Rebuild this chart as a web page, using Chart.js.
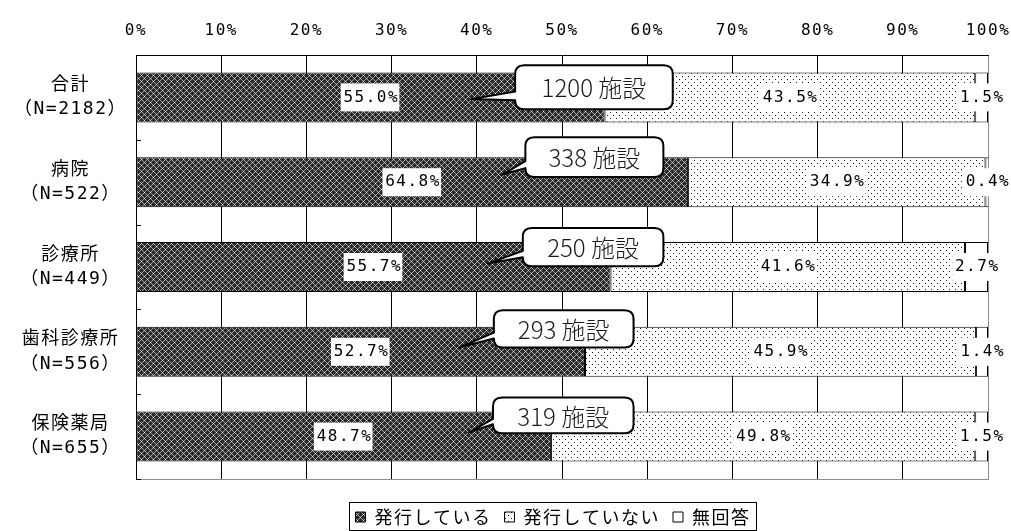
<!DOCTYPE html>
<html><head><meta charset="utf-8">
<script src="https://cdn.jsdelivr.net/npm/chart.js@4.4.0/dist/chart.umd.min.js"></script>
<style>html,body{margin:0;padding:0;background:#fff;}canvas{display:block;}</style>
</head><body>
<canvas id="c" width="1011" height="531"></canvas>
<script>
// ---- data ----
const categoryNames = ['合計', '病院', '診療所', '歯科診療所', '保険薬局'];
const categoryN = [2182, 522, 449, 556, 655];
const seriesNames = ['発行している', '発行していない', '無回答'];
const issued = [55.0, 64.8, 55.7, 52.7, 48.7];
const notIssued = [43.5, 34.9, 41.6, 45.9, 49.8];
const noAnswer = [1.5, 0.4, 2.7, 1.4, 1.5];
const facilityCounts = [1200, 338, 250, 293, 319];
const xTickValues = [0, 10, 20, 30, 40, 50, 60, 70, 80, 90, 100];

// ---- callout layout (x in axis %, y in category-band fractions from bar centre) ----
const calloutLeft = [44.5, 45.7, 45.4, 42.0, 41.9];
const calloutRight = [63.0, 61.9, 61.9, 58.4, 58.4];
const calloutTop = [-0.38, -0.53, -0.46, -0.49, -0.46];
const calloutBottom = [0.14, -0.06, -0.01, -0.05, -0.04];
const calloutTipX = [39.4, 43.0, 41.3, 37.9, 39.1];
const calloutTipY = [0.02, -0.09, -0.04, -0.05, -0.05];

const MONO = "'DejaVu Sans Mono','Noto Sans CJK JP',monospace";
const LS = '1.5px';
const LEGEND_SHIFT = { x: -9, y: 16 };

function makePattern(kind) {
  const size = 6;
  const c = document.createElement('canvas');
  c.width = size; c.height = size;
  const g = c.getContext('2d');
  if (kind === 'dark') {
    g.fillStyle = '#2a2a2a'; g.fillRect(0, 0, size, size);
    for (let y = 0; y < size; y++) for (let x = 0; x < size; x++) {
      if ((x + y) % size === 0 || (x - y + size) % size === 0) {
        g.fillStyle = (x === 0 && y === 0) || (x === 3 && y === 3) ? '#f0f0f0' : '#a8a8a8';
        g.fillRect(x, y, 1, 1);
      }
    }
  } else if (kind === 'dots') {
    g.fillStyle = '#ffffff'; g.fillRect(0, 0, size, size);
    g.fillStyle = '#1a1a1a'; g.fillRect(1, 1, 1, 1); g.fillRect(4, 4, 1, 1);
  } else {
    g.fillStyle = '#ffffff'; g.fillRect(0, 0, size, size);
  }
  return document.getElementById('c').getContext('2d').createPattern(c, 'repeat');
}

const patterns = [makePattern('dark'), makePattern('dots'), makePattern('white')];
const seriesValues = [issued, notIssued, noAnswer];

const labels = categoryNames.map((n, i) => [n, '（N=' + categoryN[i] + '）']);

function drawCallout(ctx, L, R, T, B, tx, ty, text) {
  const r = 9;
  const tailTop = B - (B - T) * 0.4;
  const tailBot = B - r;
  ctx.save();
  ctx.beginPath();
  ctx.moveTo(L + r, T);
  ctx.lineTo(R - r, T);
  ctx.quadraticCurveTo(R, T, R, T + r);
  ctx.lineTo(R, B - r);
  ctx.quadraticCurveTo(R, B, R - r, B);
  ctx.lineTo(L + r, B);
  ctx.quadraticCurveTo(L, B, L, tailBot);
  ctx.lineTo(tx, ty);
  ctx.lineTo(L, tailTop);
  ctx.lineTo(L, T + r);
  ctx.quadraticCurveTo(L, T, L + r, T);
  ctx.closePath();
  ctx.fillStyle = '#fff';
  ctx.fill();
  ctx.lineWidth = 2;
  ctx.strokeStyle = '#000';
  ctx.lineJoin = 'round';
  ctx.stroke();
  ctx.letterSpacing = '0px';
  ctx.font = "300 24px 'Noto Sans CJK JP'";
  ctx.fillStyle = '#1a1a1a';
  ctx.textAlign = 'center';
  ctx.textBaseline = 'middle';
  ctx.fillText(text, (L + R) / 2, (T + B) / 2 + 1);
  ctx.restore();
}

const decor = {
  id: 'decor',
  afterInit(chart) {
    const lg = chart.legend;
    if (lg) {
      const origFit = lg.fit.bind(lg);
      lg.fit = function () { origFit(); this.height = 52; };
      const origDraw = lg.draw.bind(lg);
      lg.draw = function () {
        const c = chart.ctx;
        c.save();
        c.translate(LEGEND_SHIFT.x, LEGEND_SHIFT.y);
        origDraw();
        c.restore();
      };
    }
  },
  beforeUpdate(chart) { chart.ctx.letterSpacing = LS; },
  beforeLayout(chart) { chart.ctx.letterSpacing = LS; },
  beforeDraw(chart) { chart.ctx.letterSpacing = LS; },
  afterDatasetsDraw(chart) {
    const ctx = chart.ctx;
    const area = chart.chartArea;
    const ys = chart.scales.y, xs = chart.scales.x;
    ctx.save();
    // bottom gray border
    ctx.strokeStyle = '#8c8c8c'; ctx.lineWidth = 1;
    ctx.beginPath();
    ctx.moveTo(area.left, Math.round(area.bottom) + 0.5);
    ctx.lineTo(area.right + 1, Math.round(area.bottom) + 0.5);
    ctx.stroke();
    // inner tick marks on category boundaries
    const band = (ys.bottom - ys.top) / categoryNames.length;
    ctx.strokeStyle = '#000';
    ctx.beginPath();
    for (let k = 1; k <= categoryNames.length; k++) {
      const yy = Math.round(ys.top + k * band) + 0.5;
      ctx.moveTo(area.left, yy); ctx.lineTo(area.left + 5, yy);
    }
    ctx.stroke();
    // data labels
    ctx.letterSpacing = LS;
    ctx.font = '16px ' + MONO;
    ctx.textAlign = 'center';
    ctx.textBaseline = 'middle';
    chart.data.datasets.forEach((ds, di) => {
      const meta = chart.getDatasetMeta(di);
      meta.data.forEach((bar, i) => {
        const txt = ds.data[i].toFixed(1) + '%';
        const cx = (bar.x + bar.base) / 2;
        const cy = bar.y;
        const w = ctx.measureText(txt).width;
        ctx.fillStyle = '#fff';
        ctx.fillRect(cx - w / 2 - 2, cy - 14, w + 3, 28);
        ctx.fillStyle = '#000';
        ctx.fillText(txt, cx + 0.75, cy);
      });
    });
    ctx.restore();
    // callouts
    facilityCounts.forEach((n, i) => {
      const yc = ys.getPixelForValue(i);
      drawCallout(ctx,
        xs.getPixelForValue(calloutLeft[i]), xs.getPixelForValue(calloutRight[i]),
        yc + calloutTop[i] * band, yc + calloutBottom[i] * band,
        xs.getPixelForValue(calloutTipX[i]), yc + calloutTipY[i] * band,
        n + ' 施設');
    });
  },
  afterDraw(chart) {
    const lg = chart.legend;
    if (!lg || !lg.legendHitBoxes || !lg.legendHitBoxes.length) return;
    const hb = lg.legendHitBoxes;
    const l = Math.min(...hb.map(h => h.left)) + LEGEND_SHIFT.x;
    const r = Math.max(...hb.map(h => h.left + h.width)) + LEGEND_SHIFT.x;
    const ctx = chart.ctx;
    ctx.save();
    ctx.strokeStyle = '#000'; ctx.lineWidth = 1;
    ctx.strokeRect(Math.round(l - 7) + 0.5, 502.5, Math.round(r - l + 12), 28);
    ctx.restore();
  }
};

new Chart(document.getElementById('c'), {
  type: 'bar',
  data: {
    labels: labels,
    datasets: seriesNames.map((name, i) => ({
      label: name,
      data: seriesValues[i],
      backgroundColor: patterns[i],
      borderColor: '#000',
      borderWidth: 1,
      borderSkipped: false,
      barPercentage: 0.59,
      categoryPercentage: 1.0
    }))
  },
  options: {
    indexAxis: 'y',
    responsive: false,
    animation: false,
    events: [],
    layout: { padding: { left: 0, right: 23, top: 0, bottom: 0 } },
    scales: {
      x: {
        position: 'top',
        stacked: true,
        min: 0, max: 100,
        afterBuildTicks(scale) { scale.ticks = xTickValues.map(v => ({ value: v })); },
        afterFit(scale) { scale.height = 55; scale.paddingLeft = 0; scale.paddingRight = 0; },
        ticks: {
          callback: v => v + '%',
          font: { size: 16, family: MONO },
          color: '#000',
          padding: 15,
          maxRotation: 0
        },
        grid: {
          color: c => (c.tick && c.tick.value === 100) ? '#8c8c8c' : '#000',
          lineWidth: 1,
          drawTicks: false
        },
        border: { display: true, color: '#000', width: 1 }
      },
      y: {
        stacked: true,
        afterFit(scale) { scale.width = 136; scale.paddingTop = 0; scale.paddingBottom = 0; },
        ticks: {
          font: { size: 18, family: MONO, lineHeight: 1.35 },
          color: '#000',
          crossAlign: 'center',
          padding: 9
        },
        grid: { display: false, drawTicks: false, tickLength: 0 },
        border: { display: true, color: '#000', width: 1 }
      }
    },
    plugins: {
      legend: {
        position: 'bottom',
        fullSize: false,
        labels: {
          font: { size: 18, family: "'Noto Sans CJK JP'" },
          color: '#000',
          boxWidth: 10,
          boxHeight: 10,
          padding: 13
        }
      },
      tooltip: { enabled: false }
    }
  },
  plugins: [decor]
});
</script>
</body></html>
